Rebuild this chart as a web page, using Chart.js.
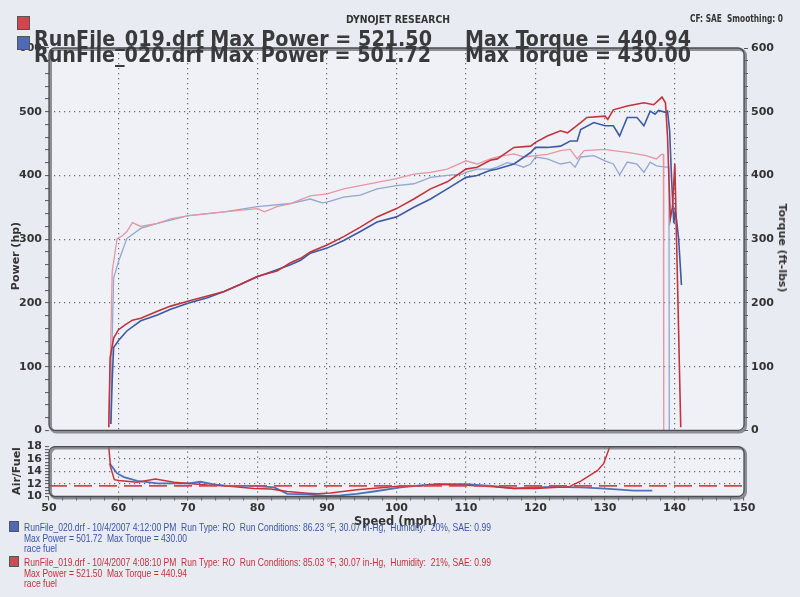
<!DOCTYPE html>
<html><head><meta charset="utf-8">
<script src="https://cdn.jsdelivr.net/npm/chart.js@4.4.1/dist/chart.umd.min.js"></script>
<style>
html,body{margin:0;padding:0;}
body{width:800px;height:597px;background:#e9ebf2;position:relative;overflow:hidden;font-family:"DejaVu Sans",sans-serif;}
canvas{position:absolute;left:0;}
#c1{top:0;}
#c2{top:437px;}
.t{position:absolute;white-space:nowrap;transform-origin:0 0;}
.big{font:bold 22px "DejaVu Sans Condensed","DejaVu Sans",sans-serif;line-height:22px;color:#3a3a3c;}
.sm{font:bold 11px "DejaVu Sans Condensed","DejaVu Sans",sans-serif;line-height:11px;color:#333;}
.ax{font:bold 11px "DejaVu Sans",sans-serif;line-height:11px;color:#333;}
.lg{font:10.5px "Liberation Sans",Arial,sans-serif;line-height:10px;}
.blue{color:#3a55a4;}
.red{color:#c2323c;}
.sq{position:absolute;width:8px;height:9px;border:1px solid #555;}
</style></head><body>
<canvas id="c1" width="800" height="440"></canvas>
<canvas id="c2" width="800" height="93"></canvas>

<div class="t sm" style="left:346px;top:14px" data-w="104">DYNOJET RESEARCH</div>
<div class="t sm" style="left:690px;top:13px" data-w="93">CF: SAE&nbsp; Smoothing: 0</div>

<div class="sq" style="left:17px;top:16px;width:11px;height:12px;background:#d0464e"></div>
<div class="sq" style="left:17px;top:36px;width:11px;height:12px;background:#4f6ab7"></div>
<div class="t big" style="left:34px;top:28px" data-w="398">RunFile_019.drf Max Power = 521.50</div>
<div class="t big" style="left:465px;top:28px" data-w="226">Max Torque = 440.94</div>
<div class="t big" style="left:34px;top:44px" data-w="397">RunFile_020.drf Max Power = 501.72</div>
<div class="t big" style="left:465px;top:44px" data-w="226">Max Torque = 430.00</div>

<div class="t ax" id="pwr" style="left:10px;top:256px;transform:rotate(-90deg) translate(-50%,0);transform-origin:0 0">Power (hp)</div>
<div class="t ax" id="trq" style="left:788px;top:248px;transform:rotate(90deg) translate(-50%,0);transform-origin:0 0">Torque (ft-lbs)</div>
<div class="t ax" id="af" style="left:11px;top:471px;transform:rotate(-90deg) translate(-50%,0);transform-origin:0 0">Air/Fuel</div>
<div class="t ax" style="left:354px;top:515px;font-size:12px;line-height:12px" data-w="83">Speed (mph)</div>

<div class="sq" style="left:9px;top:521px;background:#5069b5"></div>
<div class="t lg blue" style="left:24px;top:522px" data-w="467">RunFile_020.drf - 10/4/2007 4:12:00 PM&nbsp; Run Type: RO&nbsp; Run Conditions: 86.23 °F, 30.07 in-Hg,&nbsp; Humidity:&nbsp; 20%, SAE: 0.99</div>
<div class="t lg blue" style="left:24px;top:533px" data-w="163">Max Power = 501.72&nbsp; Max Torque = 430.00</div>
<div class="t lg blue" style="left:24px;top:543px" data-w="33">race fuel</div>
<div class="sq" style="left:9px;top:556px;background:#cf4a52"></div>
<div class="t lg red" style="left:24px;top:557px" data-w="467">RunFile_019.drf - 10/4/2007 4:08:10 PM&nbsp; Run Type: RO&nbsp; Run Conditions: 85.03 °F, 30.07 in-Hg,&nbsp; Humidity:&nbsp; 21%, SAE: 0.99</div>
<div class="t lg red" style="left:24px;top:568px" data-w="163">Max Power = 521.50&nbsp; Max Torque = 440.94</div>
<div class="t lg red" style="left:24px;top:578px" data-w="33">race fuel</div>

<script>
// ---------- DATA ----------
const speedRange = [50, 150];
const powerRange = [0, 600];
const afRange = [10, 18];

// Run 019 (red) - power (hp)
const r019PowerSpeed = [58.6,58.8,59.3,60.0,61.0,62.0,63.2,65.6,67.5,70.1,72.8,75.2,77.5,80.0,82.8,84.75,86.2,87.6,90.0,92.4,94.8,97.2,100.0,102.5,104.9,107.3,110.0,111.6,113.5,114.5,116.9,119.3,120.0,121.7,123.6,124.6,126.5,127.4,130.0,130.4,131.2,133.2,135.6,137.0,138.2,138.7,139.0,139.2,139.4,139.7,140.05,140.5,140.9];
const r019Power = [5,114,145,158,166,173,176,187,195,203,211,218,229,242,250,263,270,280,291,304,319,335,348,363,379,390,410,413,424,426,444,446,452,462,470,467,483,491,493,488,503,509,514,511,523,514,460,394,332,350,418,200,5];

// Run 020 (blue) - power (hp)
const r020PowerSpeed = [58.9,59.1,59.3,60.0,61.2,63.2,65.6,67.5,70.1,72.8,75.2,77.5,80.0,82.8,84.75,86.2,87.6,90.0,92.4,94.8,97.2,100.0,102.5,104.9,107.3,110.0,111.6,113.5,114.5,116.9,119.3,120.0,121.7,123.6,125.0,126.0,126.5,128.4,130.0,131.2,132.1,133.2,134.6,135.6,136.5,137.2,137.7,138.7,139.0,139.3,139.6,139.9,140.1,140.3,140.6,141.0];
const r020Power = [10,80,130,141,156,172,181,190,200,208,218,229,241,252,260,267,278,286,298,312,327,335,350,363,379,397,400,408,410,418,436,444,444,446,454,454,472,483,478,478,462,491,491,478,501,496,502,499,501,470,390,325,345,330,300,228];

// Run 019 (red) - torque (ft-lbs)
const r019TorqueSpeed = [58.6,58.9,59.1,59.8,60.5,61.2,62.0,63.2,65.6,67.5,70.1,72.8,75.2,80.0,81.0,82.8,84.75,86.2,87.6,90.0,92.4,94.8,97.2,100.0,102.5,104.9,107.3,110.0,111.6,113.5,114.5,116.9,118.3,120.0,121.7,123.6,125.0,126.0,127.0,130.0,131.2,133.5,135.9,137.4,138.1,138.4,138.45];
const r019Torque = [5,150,250,301,305,312,326,320,325,332,337,340,343,348,343,351,356,362,368,371,379,384,389,395,402,405,410,423,418,426,429,434,429,431,433,439,441,426,439,441,439,436,431,426,433,433,0];

// Run 020 (blue) - torque (ft-lbs)
const r020TorqueSpeed = [58.9,59.1,59.3,60.0,61.2,63.2,65.6,67.5,70.1,75.2,80.0,84.75,87.6,89.3,90.0,92.4,94.8,97.2,100.0,102.5,104.9,107.3,109.5,110.0,111.6,113.5,114.5,115.9,116.9,118.3,119.3,120.0,121.7,123.6,125.0,125.7,126.5,128.4,130.0,131.2,132.1,133.2,134.6,135.6,136.5,137.4,138.7,139.2,139.25];
const r020Torque = [10,150,239,265,301,317,325,330,337,343,351,356,363,357,358,366,369,379,384,387,397,400,402,405,410,410,413,420,418,413,418,429,426,418,421,413,429,431,423,418,401,421,418,405,421,415,413,413,0];

// Air/Fuel ratio
const r019AFSpeed = [58.6,58.85,59.4,60.05,62.7,65.3,68.0,70.1,72.8,75.6,79.5,81.9,84.3,87.2,88.6,90.5,94.3,98.2,100.6,103.5,105.9,110.0,114.0,116.9,120.0,122.6,124.8,126.5,128.9,129.8,130.7,137.5];
const r019AF = [18,14.75,12.7,12.56,12.3,12.8,12.3,12.1,11.86,11.7,11.3,11.2,10.8,10.53,10.43,10.58,11.1,11.45,11.7,11.7,11.96,11.8,11.55,11.3,11.3,11.45,11.55,12.47,14.14,15.26,18,18];
const r020AFSpeed = [58.7,59.1,59.8,60.8,62.7,65.6,68.0,70.1,71.8,73.7,75.6,79.5,82.4,84.3,87.2,90.0,91.9,94.3,96.7,100.6,103.5,105.9,110.0,114.0,116.9,120.0,122.6,126.5,129.4,132.2,134.1,136.8];
const r020AF = [15.26,14.75,13.7,13.1,12.5,12.1,12.1,12.1,12.36,11.96,11.7,11.7,11.45,10.43,10.33,10.08,10.18,10.43,10.8,11.45,11.8,11.96,11.96,11.65,11.3,11.45,11.55,11.45,11.3,11.1,10.94,10.94];
const targetAFSpeed = [50, 150];
const targetAF = [11.7, 11.7];

// ---------- helpers ----------
const pts = (xs, ys) => xs.map((x, i) => ({x, y: ys[i]}));
const DOT = '#6a6c75';
const tickFont = {family: '"DejaVu Sans", sans-serif', size: 11, weight: 'bold'};

function rr(ctx, x, y, w, h, r) {
  ctx.beginPath();
  ctx.moveTo(x + r, y);
  ctx.lineTo(x + w - r, y); ctx.arcTo(x + w, y, x + w, y + r, r);
  ctx.lineTo(x + w, y + h - r); ctx.arcTo(x + w, y + h, x + w - r, y + h, r);
  ctx.lineTo(x + r, y + h); ctx.arcTo(x, y + h, x, y + h - r, r);
  ctx.lineTo(x, y + r); ctx.arcTo(x, y, x + r, y, r);
  ctx.closePath();
}
const frame = {
  id: 'frame',
  beforeDraw(chart) {
    const {ctx, chartArea: a} = chart;
    ctx.save();
    rr(ctx, a.left, a.top, a.right - a.left, a.bottom - a.top, 6);
    ctx.fillStyle = '#eff1f7';
    ctx.fill();
    ctx.restore();
  },
  afterDatasetsDraw(chart) {
    const {ctx, chartArea: a} = chart;
    ctx.save();
    rr(ctx, a.left + 1.5, a.top + 1.5, a.right - a.left, a.bottom - a.top, 6);
    ctx.strokeStyle = 'rgba(110,110,115,0.75)';
    ctx.lineWidth = 3;
    ctx.stroke();
    rr(ctx, a.left, a.top, a.right - a.left, a.bottom - a.top, 6);
    ctx.strokeStyle = '#4d4e52';
    ctx.lineWidth = 1.3;
    ctx.stroke();
    ctx.restore();
  }
};

const innerGrid = (lo, hi, step) => (c) => {
  const v = c.tick ? c.tick.value : NaN;
  return (v > lo && v < hi && Math.abs(v / step - Math.round(v / step)) < 1e-6) ? DOT : 'rgba(0,0,0,0)';
};

// ---------- main chart ----------
new Chart(document.getElementById('c1'), {
  type: 'line',
  data: {
    datasets: [
      {data: pts(r019PowerSpeed, r019Power), yAxisID: 'yP', borderColor: '#c2333d', borderWidth: 1.6},
      {data: pts(r020PowerSpeed, r020Power), yAxisID: 'yP', borderColor: '#3e5aa2', borderWidth: 1.6},
      {data: pts(r019TorqueSpeed, r019Torque), yAxisID: 'yT', borderColor: '#e597a3', borderWidth: 1.3},
      {data: pts(r020TorqueSpeed, r020Torque), yAxisID: 'yT', borderColor: '#93a7cf', borderWidth: 1.3}
    ]
  },
  options: {
    responsive: false, animation: false, events: [],
    datasets: {line: {pointRadius: 0, tension: 0, fill: false}},
    layout: {padding: {top: 48, left: 0, right: 0, bottom: 0}},
    plugins: {legend: {display: false}, tooltip: {enabled: false}},
    scales: {
      x: {
        type: 'linear', min: speedRange[0], max: speedRange[1],
        afterFit: s => { s.height = 7; },
        ticks: {display: false, stepSize: 10},
        grid: {color: innerGrid(50, 150, 10), lineWidth: 1.2, drawTicks: false},
        border: {display: false, dash: [1.2, 3.8]}
      },
      yP: {
        position: 'left', min: powerRange[0], max: powerRange[1],
        afterFit: s => { s.width = 49; },
        ticks: {stepSize: 20, autoSkip: false, padding: 3, color: '#333', font: tickFont,
          callback: v => (v % 100 === 0 ? String(v) : '')},
        grid: {color: innerGrid(0, 600, 100), lineWidth: 1.2, tickLength: 4, tickColor: '#55565a', tickWidth: 1},
        border: {display: false, dash: [1.2, 3.8]}
      },
      yT: {
        position: 'right', min: powerRange[0], max: powerRange[1],
        afterFit: s => { s.width = 56; },
        ticks: {stepSize: 20, autoSkip: false, padding: 3, color: '#333', font: tickFont,
          callback: v => (v % 100 === 0 ? String(v) : '')},
        grid: {drawOnChartArea: false, tickLength: 4, tickColor: '#55565a', tickWidth: 1},
        border: {display: false}
      }
    }
  },
  plugins: [frame]
});

// ---------- air/fuel chart ----------
new Chart(document.getElementById('c2'), {
  type: 'line',
  data: {
    datasets: [
      {data: pts(targetAFSpeed, targetAF), borderColor: '#d8454e', borderWidth: 1.8, borderDash: [18, 7]},
      {data: pts(r019AFSpeed, r019AF), borderColor: '#c6333c', borderWidth: 1.5},
      {data: pts(r020AFSpeed, r020AF), borderColor: '#4d72b8', borderWidth: 1.8}
    ]
  },
  options: {
    responsive: false, animation: false, events: [],
    datasets: {line: {pointRadius: 0, tension: 0, fill: false}},
    layout: {padding: {top: 0, left: 0, right: 56, bottom: 0}},
    plugins: {legend: {display: false}, tooltip: {enabled: false}},
    scales: {
      x: {
        type: 'linear', min: speedRange[0], max: speedRange[1],
        afterFit: s => { s.height = 33.5; },
        ticks: {stepSize: 2, autoSkip: false, maxRotation: 0, padding: 1, color: '#333', font: tickFont,
          callback: v => (v % 10 === 0 ? String(v) : '')},
        grid: {color: innerGrid(50, 150, 10), lineWidth: 1.2, tickLength: 4, tickColor: '#55565a', tickWidth: 1},
        border: {display: false, dash: [1.2, 3.8]}
      },
      y: {
        position: 'left', min: afRange[0], max: afRange[1],
        afterFit: s => { s.width = 49; },
        ticks: {stepSize: 0.5, autoSkip: false, padding: 3, color: '#333', font: tickFont,
          callback: v => (Math.abs(v % 2) < 1e-6 ? String(v) : '')},
        grid: {color: innerGrid(10, 18, 2), lineWidth: 1.2, tickLength: 4, tickColor: '#55565a', tickWidth: 1},
        border: {display: false, dash: [1.2, 3.8]}
      }
    }
  },
  plugins: [frame]
});

// fit text widths to the reference extents
document.querySelectorAll('[data-w]').forEach(el => {
  const w = el.getBoundingClientRect().width;
  const target = parseFloat(el.dataset.w);
  if (w > 0) el.style.transform = 'scaleX(' + (target / w).toFixed(4) + ')';
});
</script>
</body></html>
